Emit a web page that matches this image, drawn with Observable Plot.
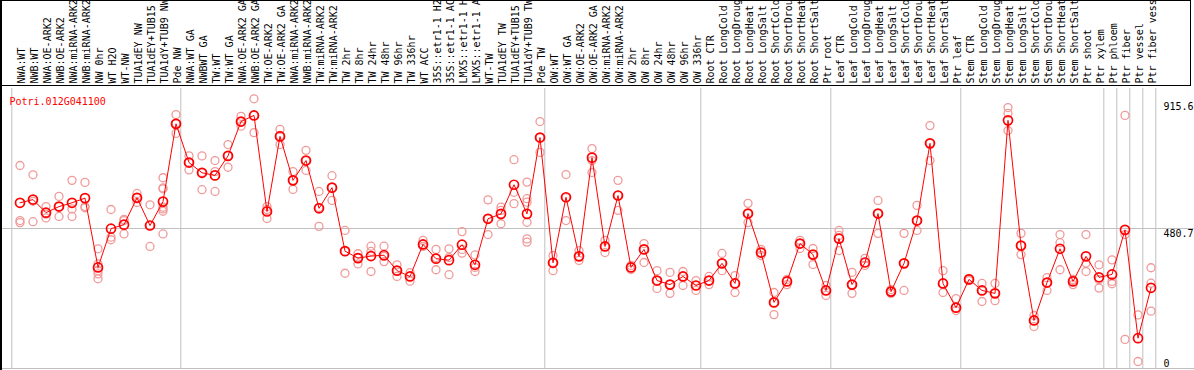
<!DOCTYPE html>
<html><head><meta charset="utf-8">
<script src="https://cdn.jsdelivr.net/npm/d3@7"></script>
<script src="https://cdn.jsdelivr.net/npm/@observablehq/plot@0.6"></script>
<style>
html,body{margin:0;padding:0;background:#fff;}
#wrap{position:relative;width:1194px;height:370px;overflow:hidden;}
#hdr{position:absolute;left:0;top:0;width:1191px;height:86px;border-top:1px solid #000;border-right:1px solid #000;border-bottom:1px solid #000;box-sizing:border-box;pointer-events:none}
#lft{position:absolute;left:0;top:0;width:2px;height:370px;border-left:2px solid #000;box-sizing:border-box;pointer-events:none}
</style></head><body><div id="wrap"></div>
<script>
const gene = "Potri.012G041100";
const categories = [
 "NWA:WT","NWB:WT","NWA:OE-ARK2","NWB:OE-ARK2","NWA:miRNA-ARK2","NWB:miRNA-ARK2","NW 0hr","WT H2O","WT-NW","TUA1dEY NW","TUA1dEY+TUB15 NW","TUA1dY+TUB9 NW","Pde NW",
 "NWA:WT GA","NWBWT GA","TW:WT","TW:WT GA","NWA:OE-ARK2 GA","NWB:OE-ARK2 GA","TW:OE-ARK2","TW:OE-ARK2 GA","NWA:miRNA-ARK2 GA","NWB:miRNA-ARK2 GA","TW:miRNA-ARK2","TW:miRNA-ARK2 GA",
 "TW 2hr","TW 8hr","TW 24hr","TW 48hr","TW 96hr","TW 336hr","WT ACC","35S::etr1-1 H2O","35S::etr1-1 ACC","LMX5::etr1-1 H2O","LMX5::etr1-1 ACC","WT-TW","TUA1dEY TW","TUA1dEY+TUB15 TW","TUA1dY+TUB9 TW","Pde TW",
 "OW:WT","OW:WT GA","OW:OE-ARK2","OW:OE-ARK2 GA","OW:miRNA-ARK2","OW:miRNA-ARK2 GA","OW 2hr","OW 8hr","OW 24hr","OW 48hr","OW 96hr","OW 336hr",
 "Root CTR","Root LongCold","Root LongDrought","Root LongHeat","Root LongSalt","Root ShortCold","Root ShortDrought","Root ShortHeat","Root ShortSalt","Ptr root",
 "Leaf CTR","Leaf LongCold","Leaf LongDrought","Leaf LongHeat","Leaf LongSalt","Leaf ShortCold","Leaf ShortDrought","Leaf ShortHeat","Leaf ShortSalt","Ptr leaf",
 "Stem CTR","Stem LongCold","Stem LongDrought","Stem LongHeat","Stem LongSalt","Stem ShortCold","Stem ShortDrought","Stem ShortHeat","Stem ShortSalt","Ptr shoot","Ptr xylem",
 "Ptr phloem","Ptr fiber","Ptr vessel","Ptr fiber vessel"
];
// index of the first sample of each group (last entry closes the final group)
const groupStarts = [0,13,41,53,63,73,84,85,86,87,88];
const means = [
 569,580,535,556,569,585,347,480,494,586,491,573,840,
 707,672,663,730,848,869,539,797,646,714,550,621,
 403,379,386,389,336,316,426,377,372,425,356,514,531,631,531,793,
 363,588,385,724,419,594,347,409,302,288,316,285,
 302,361,292,532,398,227,299,429,391,268,
 446,288,364,532,264,361,508,773,292,209,
 306,268,258,852,422,165,295,411,299,385,313,
 323,476,104,277
];
const replicates = [
 [697,508,501],[665,574,504],[556,530,517],[591,556,522],[646,548,522],[639,556,552],
 [411,359,336,325,308],[546,451,442],[512,508,462],[601,587,570],[562,491,419],
 [655,620,617,554,548,540,462],[872,841,807],
 [730,707,682],[730,673,614],[714,676,608],[769,731,691],[866,848,832],[926,869,810],
 [556,546,515],[821,800,769],[676,646,615],[749,714,680],[608,553,488],[662,621,577],
 [474,402,327],[394,381,359],[420,402,333],[420,385,367],[356,336,316],[329,316,300],
 [440,426,419],[409,381,339],[411,381,322],[470,409,396],[390,347,333],[579,515,460],
 [554,543,497],[717,605,566],[640,583,571,502,445,434],[848,793,742],
 [388,364,336],[666,587,508],[405,385,371],[755,714,673],[440,419,398],[646,594,543],
 [354,347,340],[429,409,364],[336,302,275],[330,288,258],[333,316,285],[302,285,268],
 [316,302,288],[395,361,336],[319,292,261],[567,532,501],[409,398,388],[261,227,185],
 [306,299,288],[440,429,412],[412,391,357],[285,268,251],
 [474,457,405],[330,288,258],[378,364,354],[577,532,464],[271,264,258],[464,361,268],
 [560,508,474],[834,773,714],[336,292,261],[240,209,199],
 [309,306,302],[292,268,230],[292,258,233],[896,876,817],[464,422,391],[182,165,144],
 [312,295,268],[460,432,339],[306,302,288],[460,362,333],[356,305,276],
 [373,299,291],[869,460,100],[184,24],[346,293,197]
];
const yTicks = [915.6, 480.7, 0];
const yMax = 961.4;

const meanRows = means.map((v, i) => ({i, v}));
const repRows = replicates.flatMap((arr, i) => arr.map(v => ({i, v})));
const catRows = categories.map((c, i) => ({i, c}));

const chart = Plot.plot({
  width: 1194, height: 370,
  marginTop: 88, marginBottom: 2, marginLeft: 0, marginRight: 0,
  style: {fontFamily: "DejaVu Sans Mono", fontSize: "10px", background: "#fff", color: "#000"},
  x: {type: "linear", domain: [0, categories.length - 1], range: [19.5, 19.5 + 13 * (categories.length - 1)], axis: null},
  y: {domain: [0, yMax], range: [368, 88], axis: null},
  marks: [
    Plot.ruleX(groupStarts, {x: d => d - 0.631, stroke: "#c0c0c0", strokeWidth: 1}),
    Plot.ruleY([yTicks[1]], {stroke: "#c0c0c0", strokeWidth: 1}),
    Plot.ruleY([0], {stroke: "#c0c0c0", strokeWidth: 1}),
    Plot.text(catRows, {x: "i", text: "c", frameAnchor: "top", dy: -5, dx: -2, rotate: -90, textAnchor: "start", fill: "#000"}),
    Plot.text([gene], {frameAnchor: "top-left", dx: 9, dy: 9, textAnchor: "start", fill: "#ff0000"}),
    Plot.text(yTicks.filter(d => d > 0), {y: d => d, text: d => String(d), frameAnchor: "left", dx: 1163, dy: 1, textAnchor: "start", lineAnchor: "top", fill: "#000"}),
    Plot.text(yTicks.filter(d => d === 0), {y: d => d, text: d => String(d), frameAnchor: "left", dx: 1163, dy: -2, textAnchor: "start", lineAnchor: "bottom", fill: "#000"}),
    Plot.dot(repRows, {x: "i", y: "v", r: 4, stroke: "#f09a9a", strokeWidth: 1.3, fill: "none"}),
    Plot.line(meanRows, {x: "i", y: "v", stroke: "#ff0000", strokeWidth: 1}),
    Plot.dot(meanRows, {x: "i", y: "v", r: 4.5, stroke: "#ff0000", strokeWidth: 1.7, fill: "none"})
  ]
});
const wrap = document.getElementById("wrap");
wrap.appendChild(chart);
const hdr = document.createElement("div"); hdr.id = "hdr"; wrap.appendChild(hdr);
const lft = document.createElement("div"); lft.id = "lft"; wrap.appendChild(lft);
</script>
</body></html>
